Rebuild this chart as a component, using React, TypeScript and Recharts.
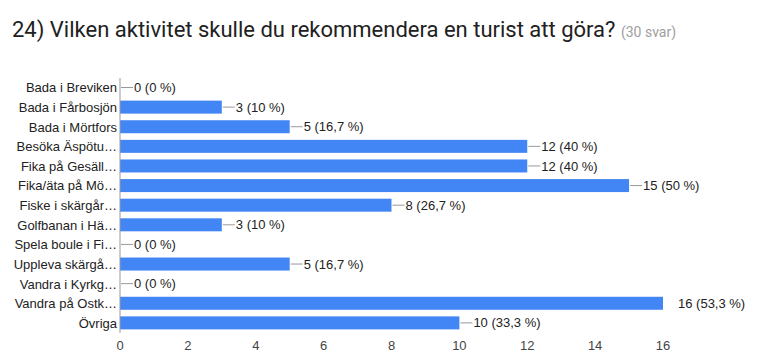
import React from 'react';
import { BarChart, Bar, XAxis, YAxis } from 'recharts';

const categories = [
  'Bada i Breviken',
  'Bada i Fårbosjön',
  'Bada i Mörtfors',
  'Besöka Äspötu…',
  'Fika på Gesäll…',
  'Fika/äta på Mö…',
  'Fiske i skärgår…',
  'Golfbanan i Hä…',
  'Spela boule i Fi…',
  'Uppleva skärgå…',
  'Vandra i Kyrkg…',
  'Vandra på Ostk…',
  'Övriga',
];
const counts = [0, 3, 5, 12, 12, 15, 8, 3, 0, 5, 0, 16, 10];
const totalAnswers = 30;
const xTicks = [0, 2, 4, 6, 8, 10, 12, 14, 16];

const data = categories.map((name, i) => ({ name, value: counts[i] }));
const maxValue = Math.max(...counts);

const FONT = "Arial, 'Liberation Sans', sans-serif";

const fmtPct = (v: number) => {
  const p = Math.round((v / totalAnswers) * 1000) / 10;
  return String(p).replace('.', ',');
};

const BarShape = (props: any) => {
  const { x, y, width, height, value, fill } = props;
  const v = Array.isArray(value) ? value[1] - value[0] : value;
  const w = Math.max(0, width || 0);
  const end = x + w;
  const cy = y + height / 2;
  const isMax = v === maxValue;
  const lineLen = 13;
  const textX = isMax ? end + 15 : end + lineLen + 1;
  return (
    <g>
      {w > 0 && <rect x={x} y={y} width={w} height={height} fill={fill} />}
      {!isMax && (
        <line x1={end + 1} y1={cy} x2={end + lineLen} y2={cy} stroke="#999" strokeWidth={1} />
      )}
      <text x={textX} y={cy} dy="0.35em" fontSize={13} fill="#222" fontFamily={FONT}>
        {`${v} (${fmtPct(v)} %)`}
      </text>
    </g>
  );
};

export default function App() {
  return (
    <div style={{ position: 'absolute', left: 0, top: 0, width: 777, height: 363, background: '#fff' }}>
      <div
        style={{
          position: 'absolute',
          left: 12,
          top: 17,
          fontFamily: 'Roboto, sans-serif',
          fontSize: 22,
          color: '#212121',
          whiteSpace: 'nowrap',
        }}
      >
        24) Vilken aktivitet skulle du rekommendera en turist att göra?{' '}
        <span style={{ fontSize: 14, color: '#9e9e9e' }}>(30 svar)</span>
      </div>
      <div style={{ position: 'absolute', left: 0, top: 0 }}>
        <BarChart
          width={777}
          height={363}
          data={data}
          layout="vertical"
          margin={{ top: 78, right: 114, bottom: 0, left: 0 }}
          barCategoryGap={3}
        >
          <XAxis
            type="number"
            domain={[0, 16]}
            ticks={xTicks}
            axisLine={false}
            tickLine={false}
            height={30}
            tick={{ fontSize: 13, fill: '#444', fontFamily: FONT }}
          />
          <YAxis
            type="category"
            dataKey="name"
            width={120}
            tickLine={false}
            tickSize={1}
            tickMargin={2}
            axisLine={{ stroke: '#999' }}
            interval={0}
            tick={{ fontSize: 13, fill: '#222', fontFamily: FONT }}
          />
          <Bar dataKey="value" fill="#4285f4" isAnimationActive={false} barSize={13} shape={<BarShape />} />
        </BarChart>
      </div>
    </div>
  );
}
